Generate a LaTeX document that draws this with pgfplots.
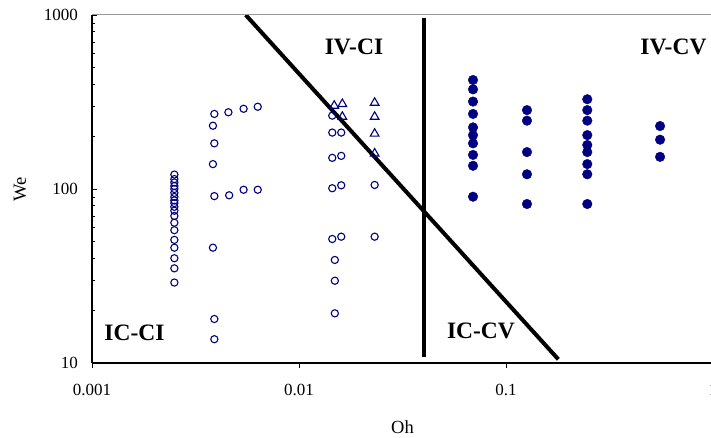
\documentclass[border=0pt]{standalone}
\usepackage{pgfplots}
\pgfplotsset{compat=1.18}
\usepackage{fontspec}
\setmainfont{Liberation Serif}
\definecolor{navy}{RGB}{0,0,128}
\begin{document}
\begin{tikzpicture}
\begin{axis}[
  scale only axis,
  width=621pt, height=348pt,
  xmode=log, ymode=log,
  xmin=0.001, xmax=1, ymin=10, ymax=1000,
  axis x line*=bottom, axis y line*=left,
  axis line style={black, line width=1.1pt},
  xtick={0.001,0.01,0.1,1}, xticklabels={0.001,0.01,0.1,1},
  ytick={10,100,1000}, yticklabels={10,100,1000},
  xminorticks=false,
  xtick align=outside, ytick align=inside,
  major tick length=5pt, minor tick length=3pt,
  tick style={black, line width=0.8pt},
  /pgf/number format/assume math mode=true,
  tick label style={font=\fontsize{17}{20}\selectfont},
  xticklabel style={anchor=north, inner sep=0pt, yshift=-16pt},
  yticklabel style={anchor=east, inner sep=0pt, xshift=-14pt},
  xlabel={Oh},
  label style={font=\fontsize{18.5}{22}\selectfont},
  xlabel style={at={(axis description cs:0.5,-0.1839)}, anchor=center},
]
% open circles
\addplot[only marks, mark=o, mark size=3.6pt, mark options={navy, line width=1.1pt}] coordinates {
 (0.0025,121) (0.0025,114) (0.0025,109) (0.0025,104) (0.0025,100) (0.0025,95)
 (0.0025,90) (0.0025,86) (0.0025,83) (0.0025,79) (0.0025,75) (0.0025,70)
 (0.0025,64) (0.0025,58) (0.0025,51) (0.0025,46) (0.0025,40) (0.0025,35) (0.0025,29)
 (0.0039,270) (0.00456,276) (0.0054,289) (0.00632,297)
 (0.00384,231) (0.0039,183) (0.00384,139)
 (0.0039,91) (0.0046,92) (0.0054,99) (0.00632,99)
 (0.00384,46) (0.0039,17.9) (0.0039,13.7)
 (0.01448,264) (0.01448,211) (0.01448,151) (0.01448,101) (0.01448,51.6)
 (0.0149,39.1) (0.0149,29.7) (0.0149,19.3)
 (0.016,211) (0.016,155) (0.016,105) (0.016,53.2)
 (0.0232,105.5) (0.0232,53.2)
};
% open triangles
\addplot[only marks, mark=triangle, mark size=5pt, mark options={navy, line width=1.1pt}] coordinates {
 (0.0148,301) (0.0162,308) (0.0162,260)
 (0.0232,313) (0.0232,260) (0.0232,208) (0.0232,160)
};
% filled circles
\addplot[only marks, mark=*, mark size=4.8pt, mark options={navy, draw=navy, fill=navy}] coordinates {
 (0.0693,423) (0.0693,374) (0.0693,318) (0.0693,270) (0.0693,226) (0.0693,204)
 (0.0693,183) (0.0693,157) (0.0693,136) (0.0693,90.3)
 (0.1263,284) (0.1263,247) (0.1263,163) (0.1263,121.5) (0.1263,82)
 (0.247,328) (0.247,284) (0.247,247) (0.247,204) (0.247,179) (0.247,163)
 (0.247,139) (0.247,121.5) (0.247,82)
 (0.555,230) (0.555,192) (0.555,153)
};
% boundary lines
\addplot[black, line width=4pt, no marks] coordinates {(0.00553,1000) (0.179,10.5)};
\addplot[black, line width=4pt, no marks] coordinates {(0.0402,958) (0.0402,10.8)};
% region labels
\node[font=\fontsize{23.5}{28}\selectfont\bfseries] at (axis cs:0.01844,655) {IV-CI};
\node[font=\fontsize{23.5}{28}\selectfont\bfseries] at (axis cs:0.644,657) {IV-CV};
\node[font=\fontsize{23.5}{28}\selectfont\bfseries] at (axis cs:0.001604,14.93) {IC-CI};
\node[font=\fontsize{23.5}{28}\selectfont\bfseries] at (axis cs:0.0757,15.3) {IC-CV};
\coordinate (bl) at (rel axis cs:0,0);
\coordinate (tl) at (rel axis cs:0,1);
\coordinate (tr) at (rel axis cs:1,1);
\end{axis}
\node[font=\fontsize{18.5}{22}\selectfont, rotate=90] at ([xshift=-72pt,yshift=174pt]bl) {We};
\draw[gray!80, line width=1pt] (tl) -- (tr);
\draw[black, line width=1.1pt] (tl) -- (bl);
\pgfresetboundingbox
\path (bl) ++(-92pt,-75pt) rectangle ++(711pt,438pt);
\end{tikzpicture}
\end{document}
